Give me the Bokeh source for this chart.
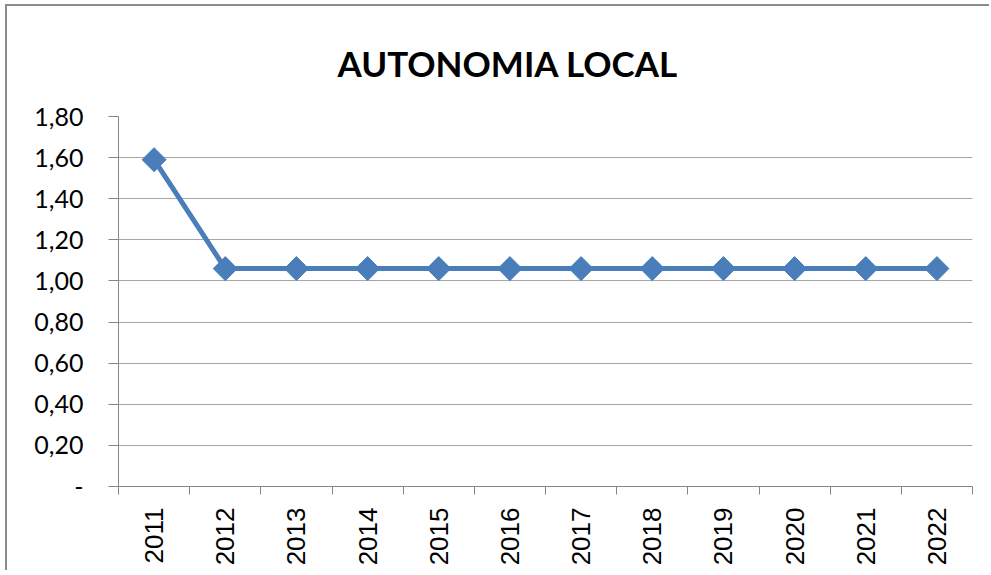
import math
from bokeh.plotting import figure
from bokeh.models import FixedTicker, Range1d
from bokeh.embed import file_html
from bokeh.resources import INLINE

years = ["2011", "2012", "2013", "2014", "2015", "2016", "2017", "2018", "2019", "2020", "2021", "2022"]
values = [1.59, 1.06, 1.06, 1.06, 1.06, 1.06, 1.06, 1.06, 1.06, 1.06, 1.06, 1.06]
y_ticks = [0.0, 0.2, 0.4, 0.6, 0.8, 1.0, 1.2, 1.4, 1.6, 1.8]
y_tick_labels = ["-", "0,20", "0,40", "0,60", "0,80", "1,00", "1,20", "1,40", "1,60", "1,80"]
title_text = "AUTONOMIA LOCAL"

xs = [i + 0.5 for i in range(len(years))]

p = figure(width=984, height=566, output_backend="svg", toolbar_location=None,
           x_range=Range1d(0, len(years)), y_range=Range1d(0, 1.8),
           min_border_left=111, min_border_right=19, min_border_top=109, min_border_bottom=86)
p.styles = {"margin-left": "5px", "margin-top": "4px",
            "border-left": "2px solid #8c8c8c", "border-top": "2px solid #8c8c8c"}

p.title.text = title_text
p.title.text_font = "Lato"
p.title.text_font_style = "bold"
p.title.text_font_size = "35px"
p.title.text_color = "#000000"
p.title.align = "left"
p.title.offset = 219
p.title.standoff = 66

p.outline_line_color = None
p.background_fill_color = "white"
p.border_fill_color = "white"

# x axis
p.xaxis.ticker = FixedTicker(ticks=xs, minor_ticks=list(range(len(years) + 1)))
p.xaxis.major_label_overrides = {x: y for x, y in zip(xs, years)}
p.xaxis.major_label_orientation = math.pi / 2
p.xaxis.major_tick_out = 0
p.xaxis.major_tick_in = 0
p.xaxis.minor_tick_out = 8
p.xaxis.minor_tick_in = 0
p.xaxis.minor_tick_line_color = "#868686"
p.xaxis.axis_line_color = "#868686"
p.xaxis.major_label_text_font = "Liberation Sans"
p.xaxis.major_label_text_font_size = "26px"
p.xaxis.major_label_text_color = "#000000"
p.xaxis.major_label_standoff = 13
p.xgrid.grid_line_color = None

# y axis
p.yaxis.ticker = FixedTicker(ticks=y_ticks, minor_ticks=[])
p.yaxis.major_label_overrides = {t: l for t, l in zip(y_ticks, y_tick_labels)}
p.yaxis.major_tick_out = 10
p.yaxis.major_tick_in = 0
p.yaxis.major_tick_line_color = "#868686"
p.yaxis.axis_line_color = "#868686"
p.yaxis.major_label_text_font = "Lato"
p.yaxis.major_label_text_font_size = "25px"
p.yaxis.major_label_text_color = "#000000"
p.yaxis.major_label_standoff = 25
p.ygrid.grid_line_color = "#a6a6a6"
p.ygrid.grid_line_width = 1.2

p.line(xs, values, line_color="#4a7ebb", line_width=5)
p.scatter(xs, values, marker="square", size=17, angle=math.pi / 4,
          fill_color="#4a7ebb", line_color="#4a7ebb")

open("out.html", "w").write(file_html(p, INLINE))
